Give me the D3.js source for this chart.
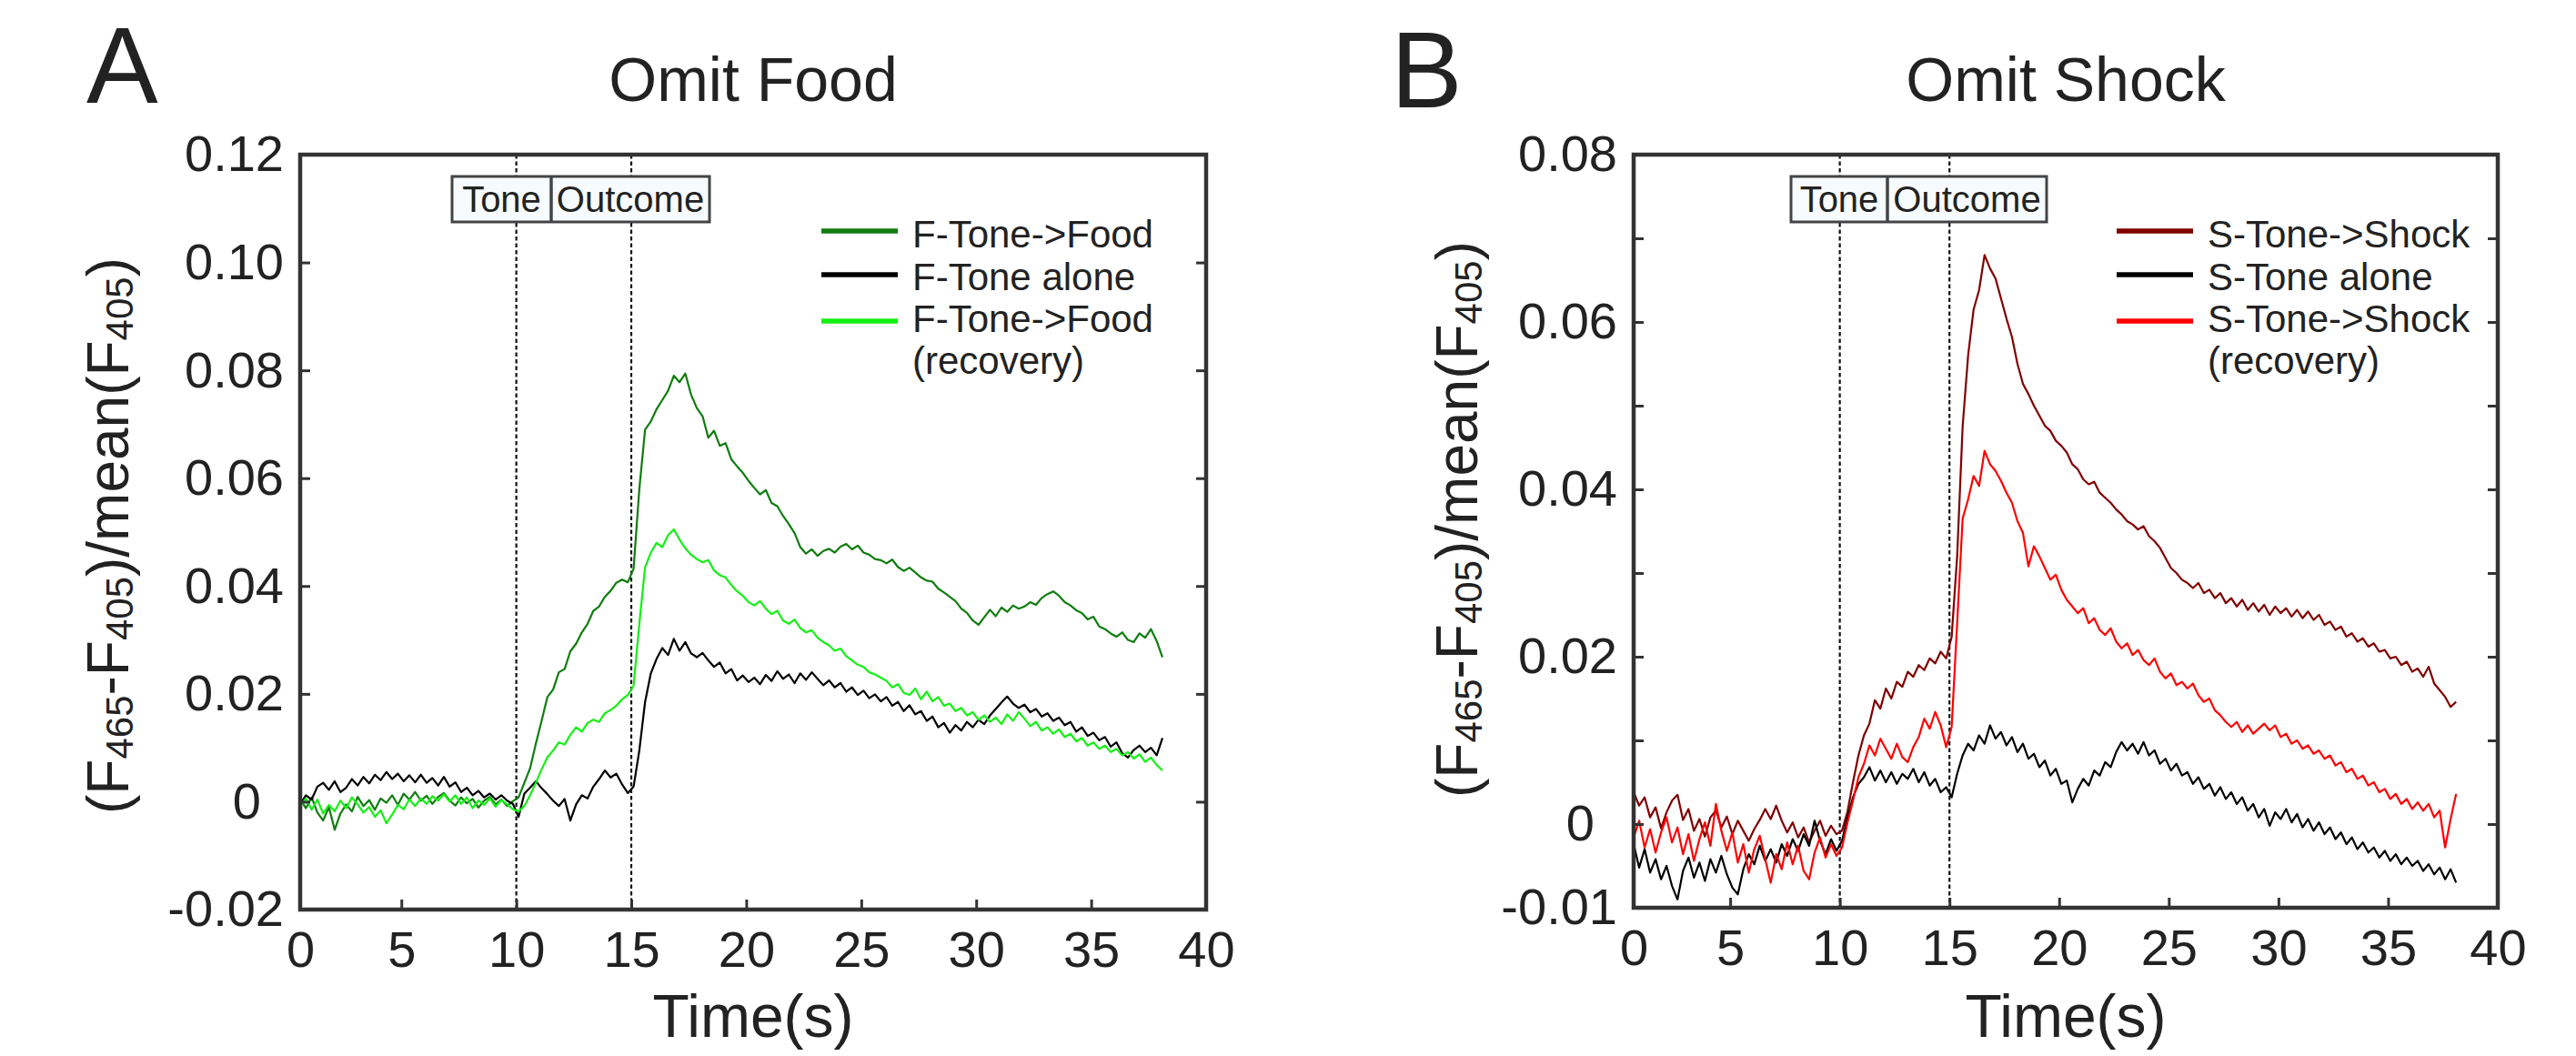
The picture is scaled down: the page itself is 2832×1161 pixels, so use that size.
<!DOCTYPE html>
<html>
<head>
<meta charset="utf-8">
<script src="https://cdn.jsdelivr.net/npm/d3@7"></script>
<style>
  body { margin: 0; background: #fff; }
  svg { display: block; font-family: "Liberation Sans", Arial, sans-serif; }
</style>
</head>
<body>
<svg id="canvas" width="2832" height="1161"></svg>
<script>
// Données (valeurs en millièmes de (F465-F405)/mean(F405))
// Grille de temps : un point toutes les 0.25 s à partir de 0.6 s
let temps = d3.range(151).map(i => 0.6 + 0.25 * i)

// Panneau A : Omit Food
let fToneFood = [0.5, -1.2, 0.8, -2.0, -3.5, -1.0, -5.2, -2.2, -0.5, -1.8, 0.9, -0.8, 0.3, -1.5, 0.6, -0.2, 1.2, -0.6, 1.5, 0.4, 1.8, 0.2, 1.1, -0.4, 0.9, 1.6, 0.2, -0.7, 0.8, -0.3, 0.5, -1.1, 0.2, 0.9, -0.5, 0.4, -0.8, 0.1,
  0.8, 3.5, 6.2, 10.8, 15.0, 19.4, 20.8, 24.0, 24.6, 27.9, 29.3, 31.4, 33.0, 35.4, 36.2, 38.0, 39.1, 40.6, 41.2, 40.7,
  43.2, 58.0, 69.0, 70.5, 72.8, 74.5, 76.2, 79.0, 77.8, 79.4, 75.5, 73.0, 71.5, 67.5, 68.8, 66.0, 66.5, 63.5, 62.2, 61.0, 59.5, 58.2, 57.0, 57.8, 55.4, 54.8, 53.0, 51.5, 49.8, 47.2, 46.0, 46.8, 45.6, 46.5, 46.9, 46.2, 47.3, 47.8, 46.8, 47.5, 46.2, 45.8, 45.0, 44.8, 44.2, 44.9, 43.5, 42.8, 43.4, 42.5, 41.6, 41.0, 40.8, 39.5, 38.8, 38.0, 37.2, 35.8, 35.0, 33.6, 32.8, 34.2, 35.6, 34.4, 36.0, 35.2, 36.4, 35.8, 36.2, 37.0, 36.5, 37.8, 38.5, 39.0, 38.2, 37.0, 36.4, 35.5, 35.0, 33.8, 34.3, 32.5, 32.0, 31.2, 30.6, 31.4, 30.0, 29.6, 31.2, 30.4, 32.0, 29.8, 26.8]
let fToneAlone = [-0.5, 1.2, 0.4, 2.8, 3.5, 2.2, 3.8, 1.8, 2.6, 4.2, 3.0, 4.6, 3.4, 5.0, 4.0, 5.5, 4.2, 5.2, 3.8, 4.9, 3.6, 5.0, 3.5, 4.4, 3.0, 4.6, 2.8, 3.6, 1.8, 2.6, 1.2, 2.0, 0.8, 1.5, 0.4, 1.2, 0.2, -0.4,
  -2.8, 1.5, 2.6, 3.8, 2.5, 1.4, 0.2, -0.8, 0.5, -3.5, -0.5, 1.2, 0.6, 2.8, 4.2, 5.8, 4.5, 5.2, 3.2, 1.6,
  2.8, 9.5, 18.5, 23.8, 26.5, 28.5, 27.2, 30.2, 28.0, 29.6, 27.5, 26.8, 27.6, 26.2, 25.0, 25.8, 23.8, 24.6, 22.5, 23.4, 22.2, 23.0, 21.8, 23.5, 22.4, 24.2, 22.8, 23.6, 22.0, 23.8, 22.6, 24.0, 22.8, 21.6, 22.5, 21.2, 22.0, 20.4, 21.2, 19.8, 20.6, 19.2, 19.9, 18.6, 19.4, 17.8, 18.5, 16.8, 17.9, 16.2, 16.8, 15.0, 15.8, 13.8, 14.6, 12.8, 14.2, 13.2, 14.8, 13.8, 15.2, 14.4, 16.0, 17.2, 18.4, 19.5, 18.2, 17.4, 18.0, 16.6, 17.2, 15.8, 16.4, 15.0, 15.6, 14.2, 14.8, 13.0, 13.8, 12.2, 12.8, 11.4, 12.0, 10.2, 11.0, 9.0, 8.2, 9.6, 10.4, 9.2, 10.0, 8.6, 11.8]
let fToneFoodRecup = [-0.8, 0.6, -1.5, 0.4, -2.2, -0.6, -1.8, 0.2, -1.2, 0.8, -0.5, -2.0, -1.0, -2.8, -1.6, -4.0, -2.4, -0.6, -1.4, 0.4, -0.8, 0.6, -0.4, 1.0, 0.2, 1.4, 0.0, 1.2, -0.4, 0.8, -1.2, 0.2, -0.6, 0.6, -0.9, 0.3, -0.5, -1.4,
  -1.8, -0.8, 1.2, 3.5, 6.0, 8.2, 9.5, 11.0, 10.6, 12.4, 13.8, 13.0, 14.6, 15.2, 14.8, 16.4, 17.0, 17.8, 19.0, 19.8,
  21.5, 33.0, 43.5, 46.2, 48.0, 47.2, 49.4, 50.5, 48.6, 47.0, 45.8, 45.0, 44.4, 44.8, 42.9, 42.0, 41.6, 40.2, 39.0, 38.2, 37.0, 36.4, 37.2, 35.8, 34.8, 35.4, 33.6, 33.0, 33.8, 32.2, 31.4, 31.8, 30.4, 29.6, 29.0, 28.0, 28.4, 27.0, 26.2, 25.4, 25.0, 24.0, 23.6, 23.0, 22.4, 21.2, 21.8, 20.2, 19.8, 21.0, 19.0, 20.4, 18.6, 19.4, 17.8, 18.2, 16.8, 17.4, 16.0, 16.6, 15.2, 16.0, 14.8, 15.6, 14.4, 16.2, 15.0, 16.6, 15.4, 14.0, 14.8, 13.2, 13.8, 12.6, 13.4, 12.0, 12.6, 11.2, 11.8, 10.4, 11.0, 9.8, 10.4, 9.2, 9.8, 8.6, 9.2, 8.0, 8.8, 7.4, 8.2, 6.8, 5.8]

// Panneau B : Omit Shock
let sToneShock = [3.8, 2.2, 3.2, 0.8, 2.0, -0.5, 1.4, 2.8, 3.5, 0.5, 1.8, -0.8, 0.6, -1.5, 0.8, 1.6, -0.4, 0.9, -1.2, 0.4, -0.8, -2.0, -0.6, 0.5, 1.8, 0.6, 2.2, 0.4, -1.0, 0.2, -1.6, -0.4, -2.2, -0.8, 0.4, -1.4, -0.2, -1.2,
  -0.8, 1.5, 5.0, 8.2, 10.6, 12.0, 14.8, 13.8, 16.2, 15.0, 17.0, 16.4, 18.2, 17.6, 19.0, 18.4, 19.8, 19.2, 20.6, 19.8,
  22.4, 32.0, 47.5, 56.0, 61.5, 63.8, 68.0, 66.4, 65.2, 62.8, 60.4, 58.2, 55.0, 52.6, 51.4, 50.0, 48.8, 47.6, 47.0, 45.8, 45.2, 44.4, 43.0, 42.4, 41.2, 40.6, 40.9, 39.6, 39.0, 38.4, 37.6, 37.0, 36.2, 35.8, 35.2, 35.6, 34.4, 33.8, 33.0, 31.8, 30.6, 30.0, 29.2, 28.8, 28.2, 28.8, 27.6, 28.0, 27.0, 27.6, 26.4, 27.0, 26.0, 26.8, 25.6, 26.4, 25.4, 26.2, 25.0, 26.0, 25.2, 25.8, 24.8, 25.6, 24.6, 25.4, 24.4, 25.0, 23.8, 24.2, 23.2, 23.6, 22.4, 22.8, 21.8, 22.2, 21.2, 21.6, 20.6, 20.8, 19.8, 20.0, 19.0, 19.4, 18.2, 18.6, 17.6, 18.8, 16.8, 16.0, 15.2, 14.0, 14.6]
let sToneAlone = [-2.4, -5.2, -3.0, -5.8, -4.2, -6.6, -5.0, -7.4, -9.0, -5.6, -4.0, -6.4, -4.6, -6.8, -4.2, -5.8, -3.8, -6.0, -7.6, -8.4, -5.4, -3.6, -4.8, -2.6, -4.4, -3.0, -4.6, -2.4, -3.8, -1.8, -3.2, -1.2, -2.6, 0.4, -2.0, -3.6, -1.8, -3.2,
  -2.0, 0.8, 3.2, 4.8, 5.6, 6.8, 5.2, 6.4, 5.0, 6.2, 4.8, 6.0, 5.4, 6.6, 5.0, 6.2, 4.6, 5.4, 3.8, 4.4,
  3.2, 6.0, 8.2, 9.6, 8.8, 10.6, 9.6, 11.8, 10.2, 11.0, 9.4, 10.4, 8.6, 9.6, 7.8, 8.4, 6.8, 7.6, 5.8, 6.6, 4.8, 5.2, 2.6, 4.2, 5.4, 4.6, 6.4, 5.8, 7.4, 6.8, 8.6, 9.8, 8.8, 9.6, 8.4, 9.8, 8.2, 8.8, 7.2, 7.8, 6.4, 7.2, 5.8, 6.2, 4.8, 5.6, 4.2, 4.8, 3.4, 4.4, 3.0, 3.8, 2.4, 3.2, 1.6, 2.4, 0.8, 1.8, -0.2, 1.4, 0.6, 1.8, 0.2, 1.2, -0.4, 0.6, -0.8, 0.2, -1.2, -0.4, -1.8, -1.0, -2.4, -1.6, -3.0, -2.2, -3.4, -2.8, -4.0, -3.2, -4.4, -3.6, -4.8, -4.0, -5.0, -4.4, -5.6, -4.8, -6.0, -5.2, -6.6, -5.4, -7.0]
let sToneShockRecup = [-1.6, 0.4, -2.8, -0.6, -3.4, -1.0, 0.8, -2.2, -0.4, -3.6, -1.2, -4.4, -1.8, 0.2, -2.6, 2.4, -0.8, -3.2, -1.0, -4.6, -2.4, -5.8, -3.0, -1.4, -4.2, -7.0, -3.6, -5.4, -2.2, -4.8, -2.6, -5.6, -6.6, -3.4, -1.6, -4.0, -2.4, -3.8,
  -2.8, 0.2, 2.8, 5.6, 7.2, 9.4, 8.2, 10.2, 9.0, 7.8, 9.6, 8.0, 7.4, 9.2, 10.4, 12.6, 11.4, 13.4, 11.8, 9.2,
  11.6, 24.0, 36.5, 38.8, 41.6, 40.4, 44.6, 43.0, 42.2, 41.0, 39.6, 38.4, 36.2, 34.8, 30.8, 33.2, 32.0, 30.6, 29.2, 29.8, 28.0, 26.8, 26.0, 25.2, 25.8, 24.0, 24.6, 23.2, 22.6, 23.4, 21.8, 21.0, 21.6, 20.2, 20.8, 19.6, 19.0, 19.8, 18.2, 17.4, 18.0, 16.6, 17.0, 16.2, 16.8, 15.4, 14.6, 15.0, 13.6, 13.0, 12.2, 11.6, 12.2, 11.0, 11.8, 10.8, 11.4, 12.0, 11.2, 11.8, 10.4, 10.8, 9.6, 10.0, 9.0, 9.4, 8.4, 8.8, 7.8, 8.2, 7.0, 7.4, 6.2, 6.6, 5.4, 5.8, 4.6, 5.0, 3.8, 4.2, 3.0, 3.6, 2.4, 3.0, 1.8, 2.6, 1.6, 2.4, 0.8, 1.6, -2.8, 0.6, 3.6]

// Graduations
let xTicks = [0.6, 5, 10, 15, 20, 25, 30, 35, 40]
let xTickLabels = ['0', '5', '10', '15', '20', '25', '30', '35', '40']
let yTicksA = [-0.02, 0, 0.02, 0.04, 0.06, 0.08, 0.10, 0.12]
let yTickLabelsA = ['-0.02', '0', '0.02', '0.04', '0.06', '0.08', '0.10', '0.12']
let yTicksB = [-0.01, 0, 0.01, 0.02, 0.03, 0.04, 0.05, 0.06, 0.07, 0.08]
let yTickLabelsB = ['-0.01', '0', '', '0.02', '', '0.04', '', '0.06', '', '0.08']

// Instants du son et de la conséquence
let debutSon = 10
let debutIssue = 15

let canvas = d3.select('#canvas')
canvas.append('rect').attr('width', 2832).attr('height', 1161).attr('fill', '#fff')

// Dessiner un panneau complet
let dessinerPanneau = (p) => {
  let x = d3.scaleLinear().domain([0.6, 40]).range([p.gauche, p.droite])
  let y = d3.scaleLinear().domain(p.yDomaine).range([p.bas, p.haut])
  let g = canvas.append('g')

  // Lettre et titre
  g.append('text').attr('x', p.lettreX).attr('y', p.lettreY)
    .attr('font-size', 118).attr('fill', '#222').text(p.lettre)
  g.append('text').attr('x', (p.gauche + p.droite) / 2).attr('y', 111)
    .attr('text-anchor', 'middle').attr('font-size', 68).attr('fill', '#222').text(p.titre)

  // Traits pointillés
  g.selectAll('.pointille').data([debutSon, debutIssue]).enter().append('line')
    .attr('x1', d => x(d)).attr('x2', d => x(d))
    .attr('y1', p.haut).attr('y2', p.bas)
    .attr('stroke', '#111').attr('stroke-width', 2.2).attr('stroke-dasharray', '4.5,3')

  // Courbes
  let clipId = 'clip' + p.lettre
  g.append('clipPath').attr('id', clipId).append('rect')
    .attr('x', p.gauche).attr('y', p.haut).attr('width', p.droite - p.gauche).attr('height', p.bas - p.haut)
  let ligne = d3.line().x(d => x(d[0])).y(d => y(d[1] / 1000))
  p.series.forEach(s => {
    g.append('path')
      .datum(s.valeurs.map((v, i) => [temps[i], v]))
      .attr('d', ligne)
      .attr('fill', 'none').attr('stroke', s.couleur).attr('stroke-width', 2.2)
      .attr('stroke-linejoin', 'round')
      .attr('clip-path', 'url(#' + clipId + ')')
  })

  // Axes
  let axeBas = g.append('g').attr('transform', `translate(0,${p.bas})`)
    .call(d3.axisBottom(x).tickValues(xTicks).tickSize(-11).tickPadding(23)
      .tickFormat((d, i) => xTickLabels[i]))
  let axeGauche = g.append('g').attr('transform', `translate(${p.gauche},0)`)
    .call(d3.axisLeft(y).tickValues(p.yTicks).tickSize(-11).tickPadding(18)
      .tickFormat((d, i) => p.yLabels[i]))
  let axeDroite = g.append('g').attr('transform', `translate(${p.droite},0)`)
    .call(d3.axisRight(y).tickValues(p.yTicks).tickSize(-11).tickFormat(''))
  ;[axeBas, axeGauche, axeDroite].forEach(a => {
    a.select('.domain').remove()
    a.selectAll('line').attr('stroke', '#333').attr('stroke-width', 3)
    a.selectAll('text').attr('font-size', 56).attr('fill', '#222').attr('font-family', null)
  })
  axeGauche.selectAll('text').filter(function () { return d3.select(this).text() === '0' }).attr('dx', -25)

  // Cadre
  g.append('rect').attr('x', p.gauche).attr('y', p.haut)
    .attr('width', p.droite - p.gauche).attr('height', p.bas - p.haut)
    .attr('fill', 'none').attr('stroke', '#333').attr('stroke-width', 4.5)

  // Boîte Tone / Outcome
  let b = p.boite
  g.append('rect').attr('x', b[0]).attr('y', 194).attr('width', b[2] - b[0]).attr('height', 50)
    .attr('fill', '#f7fbfd').attr('stroke', '#444').attr('stroke-width', 3)
  g.append('line').attr('x1', b[1]).attr('x2', b[1]).attr('y1', 194).attr('y2', 244)
    .attr('stroke', '#444').attr('stroke-width', 3.5)
  g.append('text').attr('x', (b[0] + b[1]) / 2).attr('y', 233).attr('text-anchor', 'middle')
    .attr('font-size', 40).attr('fill', '#222').text('Tone')
  g.append('text').attr('x', (b[1] + b[2]) / 2).attr('y', 233).attr('text-anchor', 'middle')
    .attr('font-size', 40).attr('fill', '#222').text('Outcome')

  // Légende
  let lignesY = [254, 302, 353]
  let textesY = [272, 319, 365]
  p.series.forEach((s, i) => {
    g.append('line').attr('x1', p.legende[0]).attr('x2', p.legende[1])
      .attr('y1', lignesY[i]).attr('y2', lignesY[i])
      .attr('stroke', s.couleur).attr('stroke-width', 5.5)
    g.append('text').attr('x', p.legende[2]).attr('y', textesY[i])
      .attr('font-size', 42).attr('fill', '#222').text(s.nom)
  })
  g.append('text').attr('x', p.legende[2]).attr('y', 411)
    .attr('font-size', 42).attr('fill', '#222').text('(recovery)')

  // Titres des axes
  g.append('text').attr('x', (p.gauche + p.droite) / 2).attr('y', 1140)
    .attr('text-anchor', 'middle').attr('font-size', 66).attr('fill', '#222').text('Time(s)')
  let yl = g.append('text').attr('transform', `translate(${p.yTitreX},${p.yTitreY}) rotate(-90)`)
    .attr('text-anchor', 'middle').attr('font-size', 64).attr('fill', '#222')
  let morceaux = [['(F', 0], ['465', 1], ['-F', 0], ['405', 1], [')/mean(F', 0], ['405', 1], [')', 0]]
  morceaux.forEach(([t, sub], i) => {
    let prev = i > 0 ? morceaux[i - 1][1] : 0
    yl.append('tspan').text(t)
      .attr('font-size', sub ? 42 : 64)
      .attr('dy', sub && !prev ? 5 : (!sub && prev ? -5 : 0))
  })
}

dessinerPanneau({
  lettre: 'A', lettreX: 95, lettreY: 113, titre: 'Omit Food',
  gauche: 330, droite: 1326, haut: 170, bas: 1000,
  yDomaine: [-0.02, 0.12], yTicks: yTicksA, yLabels: yTickLabelsA,
  boite: [497, 606, 780], legende: [903, 987, 1003],
  yTitreX: 141, yTitreY: 589,
  series: [
    { nom: 'F-Tone->Food', couleur: '#0f7d0f', valeurs: fToneFood },
    { nom: 'F-Tone alone', couleur: '#000', valeurs: fToneAlone },
    { nom: 'F-Tone->Food', couleur: '#14f014', valeurs: fToneFoodRecup }
  ]
})

dessinerPanneau({
  lettre: 'B', lettreX: 1529, lettreY: 118, titre: 'Omit Shock',
  gauche: 1796, droite: 2746, haut: 170, bas: 998,
  yDomaine: [-0.01, 0.08], yTicks: yTicksB, yLabels: yTickLabelsB,
  boite: [1969, 2075, 2250], legende: [2327, 2411, 2427],
  yTitreX: 1624, yTitreY: 571,
  series: [
    { nom: 'S-Tone->Shock', couleur: '#800000', valeurs: sToneShock },
    { nom: 'S-Tone alone', couleur: '#000', valeurs: sToneAlone },
    { nom: 'S-Tone->Shock', couleur: '#ff0000', valeurs: sToneShockRecup }
  ]
})
</script>
</body>
</html>
